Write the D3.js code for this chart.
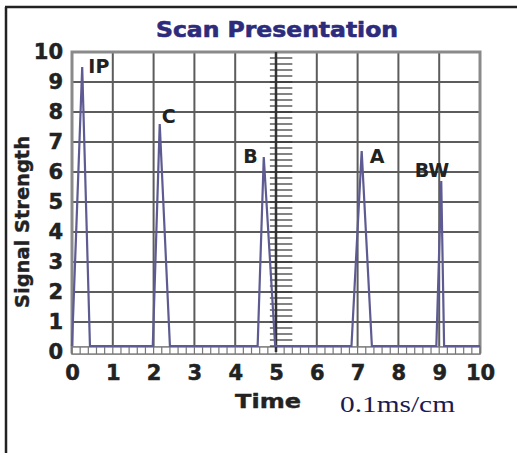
<!DOCTYPE html>
<html>
<head>
<meta charset="utf-8">
<script src="https://cdn.jsdelivr.net/npm/d3@7"></script>
<style>
  body { margin: 0; background: #fff; }
</style>
</head>
<body>
<svg id="scan" width="517" height="455" font-family="DejaVu Sans, sans-serif"></svg>
<script>
// axis ticks
const xTicks = [0, 1, 2, 3, 4, 5, 6, 7, 8, 9, 10];
const yTicks = [0, 1, 2, 3, 4, 5, 6, 7, 8, 9, 10];

// trace: time (x0.1ms) vs signal strength
const signalTime = [0, 0.25, 0.44, 1.98, 2.15, 2.4, 4.55, 4.7, 4.98, 6.85, 7.1, 7.35, 8.93, 9.05, 9.12, 10];
const signalStrength = [0.2, 9.5, 0.2, 0.2, 7.6, 0.2, 0.2, 6.5, 0.2, 0.2, 6.7, 0.2, 0.2, 5.7, 0.2, 0.2];

// echo labels and where they sit (data units, left/baseline)
const peakNames = ["IP", "C", "B", "A", "BW"];
const peakLabelX = [0.4, 2.2, 4.2, 7.3, 8.4];
const peakLabelY = [9.3, 7.65, 6.3, 6.3, 5.85];

const svg = d3.select("#scan");
const margin = { top: 52, right: 37, bottom: 103, left: 72 };
const width = +svg.attr("width");
const height = +svg.attr("height");

const x = d3.scaleLinear().domain([0, 10]).range([margin.left, width - margin.right]);
const y = d3.scaleLinear().domain([0, 10]).range([height - margin.bottom, margin.top]);

// outer frame (only top and left survive in the scan)
svg.append("path")
  .attr("d", `M5,7 H${width} M6,7 V${height - 2}`)
  .attr("stroke", "#222")
  .attr("stroke-width", 2.5)
  .attr("fill", "none");

// title
svg.append("text")
  .attr("x", 277).attr("y", 37)
  .attr("text-anchor", "middle")
  .attr("font-size", 21).attr("font-weight", "bold")
  .attr("textLength", 242).attr("lengthAdjust", "spacingAndGlyphs")
  .attr("fill", "#2d2b7c")
  .attr("stroke", "#2d2b7c").attr("stroke-width", 0.6)
  .text("Scan Presentation");

// grid
const grid = svg.append("g").attr("stroke", "#404040").attr("stroke-width", 2).attr("opacity", 0.85);
grid.selectAll(".gx").data(xTicks.slice(1, -1)).join("line")
  .attr("x1", d => x(d)).attr("x2", d => x(d))
  .attr("y1", y(10)).attr("y2", y(0));
grid.selectAll(".gy").data(yTicks.slice(1, -1)).join("line")
  .attr("x1", x(0)).attr("x2", x(10))
  .attr("y1", d => y(d)).attr("y2", d => y(d));

// plot border
svg.append("rect")
  .attr("x", x(0)).attr("y", y(10))
  .attr("width", x(10) - x(0)).attr("height", y(0) - y(10))
  .attr("fill", "none").attr("stroke", "#8a8a8a").attr("stroke-width", 3);

// ruler strip along the time axis
const minor = d3.range(0, 10.01, 0.2);
svg.append("rect")
  .attr("x", x(0)).attr("y", y(0.17))
  .attr("width", x(10) - x(0)).attr("height", y(-0.07) - y(0.17))
  .attr("fill", "#fff").attr("stroke", "#777").attr("stroke-width", 1.5);
svg.append("g").selectAll("line").data(minor).join("line")
  .attr("x1", d => x(d)).attr("x2", d => x(d))
  .attr("y1", y(0.17)).attr("y2", y(-0.07))
  .attr("stroke", "#777").attr("stroke-width", 1.2);

// vertical ruler at t = 5
const ruler = svg.append("g").attr("stroke", "#333");
ruler.append("line")
  .attr("x1", x(5)).attr("x2", x(5))
  .attr("y1", y(10)).attr("y2", y(0))
  .attr("stroke-width", 2.5);
ruler.selectAll(".rt").data(d3.range(0.2, 9.9, 0.2)).join("line")
  .attr("x1", x(4.85)).attr("x2", x(5.4))
  .attr("y1", d => y(d)).attr("y2", d => y(d))
  .attr("stroke-width", 1.5)
  .attr("opacity", 0.8);

// signal trace
const trace = signalTime.map((t, i) => [t, signalStrength[i]]);
svg.append("path")
  .datum(trace)
  .attr("d", d3.line().x(d => x(d[0])).y(d => y(d[1])))
  .attr("fill", "none")
  .attr("stroke", "#5d5b92")
  .attr("stroke-width", 2.2)
  .attr("stroke-linejoin", "miter");

// echo labels
svg.append("g").selectAll("text").data(peakNames).join("text")
  .attr("x", (d, i) => x(peakLabelX[i]))
  .attr("y", (d, i) => y(peakLabelY[i]))
  .attr("font-size", 19).attr("font-weight", "bold")
  .attr("fill", "#222")
  .text(d => d);

// axes
const xAxis = svg.append("g")
  .attr("transform", `translate(0,${y(0)})`)
  .call(d3.axisBottom(x).tickValues(xTicks).tickSize(0).tickPadding(13));
const yAxis = svg.append("g")
  .attr("transform", `translate(${x(0)},0)`)
  .call(d3.axisLeft(y).tickValues(yTicks).tickSize(0).tickPadding(9));
[xAxis, yAxis].forEach(g => {
  g.select(".domain").remove();
  g.selectAll("text")
    .attr("font-family", "DejaVu Sans, sans-serif")
    .attr("font-size", 21).attr("font-weight", "bold")
    .attr("fill", "#222")
    .attr("stroke", "#222").attr("stroke-width", 0.5);
});

svg.append("text")
  .attr("transform", `translate(29,${(y(0) + y(10)) / 2 + 20}) rotate(-90)`)
  .attr("text-anchor", "middle")
  .attr("font-size", 19).attr("font-weight", "bold")
  .attr("textLength", 172).attr("lengthAdjust", "spacingAndGlyphs")
  .attr("fill", "#222")
  .attr("stroke", "#222").attr("stroke-width", 0.4)
  .text("Signal Strength");

svg.append("text")
  .attr("x", 268).attr("y", 408)
  .attr("text-anchor", "middle")
  .attr("font-size", 20).attr("font-weight", "bold")
  .attr("textLength", 66).attr("lengthAdjust", "spacingAndGlyphs")
  .attr("fill", "#222")
  .attr("stroke", "#222").attr("stroke-width", 0.4)
  .text("Time");

svg.append("text")
  .attr("x", 340).attr("y", 412)
  .attr("font-family", "Liberation Serif, serif")
  .attr("font-size", 24)
  .attr("textLength", 115).attr("lengthAdjust", "spacingAndGlyphs")
  .attr("fill", "#1c1a52")
  .text("0.1ms/cm");
</script>
</body>
</html>
